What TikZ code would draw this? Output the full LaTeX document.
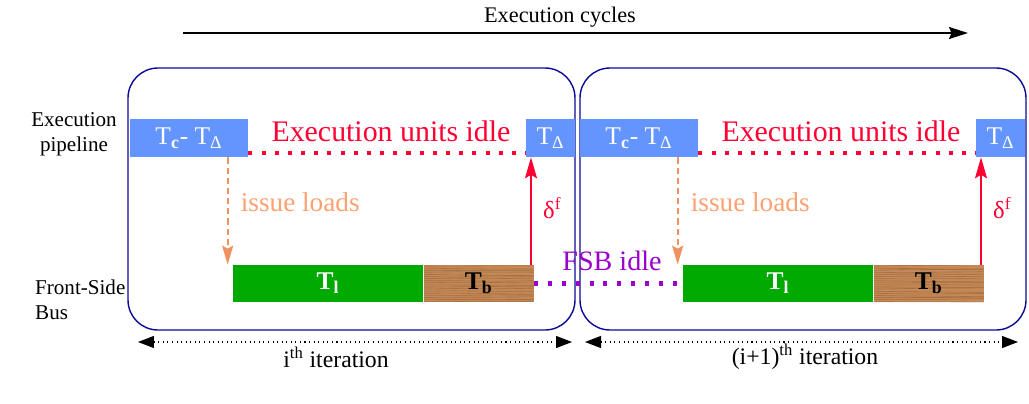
\documentclass[tikz,border=0pt]{standalone}
\usepackage{fontspec}
\setmainfont{Liberation Serif}
\usetikzlibrary{arrows.meta,calc,positioning}
\definecolor{unitblue}{RGB}{100,149,255}
\definecolor{idlered}{RGB}{255,0,51}
\definecolor{loadorange}{RGB}{255,160,112}
\definecolor{loadarrow}{RGB}{240,145,95}
\definecolor{busgreen}{RGB}{0,170,0}
\definecolor{fsbpurple}{RGB}{153,0,204}
\definecolor{framenavy}{RGB}{10,10,150}
\definecolor{woodbrown}{RGB}{196,137,86}
\definecolor{woodgrain}{RGB}{130,82,45}
\tikzset{frame/.style={draw=framenavy, line width=0.8pt, rounded corners=0.6cm},
  stage/.style={fill=unitblue, text=white, inner sep=0pt, minimum height=0.76cm, font=\fontsize{14.5}{16}\selectfont},
  busload/.style={fill=busgreen, text=white, inner sep=0pt, minimum height=0.74cm, minimum width=3.8cm, font=\fontsize{14.5}{16}\selectfont\bfseries},
  busburst/.style={fill=woodbrown, inner sep=0pt, minimum height=0.74cm, minimum width=2.2cm, font=\fontsize{14.5}{16}\selectfont\bfseries,
    path picture={
      \foreach \k in {0,...,17}
        \draw[woodgrain, opacity=0.45, line width=0.35pt] ($(path picture bounding box.north west)+(0,1+2.1*\k)$) -- ++(30,rand*0.6) -- ++(40,rand*0.6) -- ++(45,rand*0.6);
    }},
  idleexec/.style={draw=idlered, line width=2.3pt, dash pattern=on 2.3pt off 5.2pt},
  idlebus/.style={draw=fsbpurple, line width=2.3pt, dash pattern=on 2.3pt off 5.6pt},
  loads/.style={draw=loadarrow, line width=1pt, dash pattern=on 3.5pt off 2.3pt, >={Stealth[length=0.38cm, width=0.22cm, inset=0.06cm]}, ->},
  feedback/.style={draw=idlered, line width=0.75pt, >={Stealth[length=0.42cm, width=0.24cm, inset=0.07cm]}, ->},
  timeline/.style={draw=black, line width=0.8pt, >={Stealth[length=0.38cm, width=0.24cm, inset=0.05cm]}, ->},
  span/.style={draw=black, line width=0.6pt, dotted, >={Triangle[length=0.32cm, width=0.24cm]}, <->},
  side/.style={font=\fontsize{12}{14}\selectfont},
  execidle/.style={text=idlered, font=\fontsize{17}{19}\selectfont},
  loadtext/.style={text=loadorange, font=\fontsize{15.5}{17}\selectfont, anchor=west},
  feedtext/.style={text=idlered, font=\fontsize{14}{16}\selectfont, anchor=west}}

\begin{document}
\begin{tikzpicture}[x=0.02cm, y=-0.02cm]
  \useasboundingbox (0,0) rectangle (1029,403);
  \pgfmathsetseed{7}
  % time axis
  \node[font=\fontsize{12.7}{14}\selectfont] (cycles) at (560,17) {Execution cycles};
  \coordinate (t0) at (183,33);
  \coordinate (t1) at (968,33);
  \draw[timeline] (t0) -- (t1);
  % row labels
  \node[side, align=center] (pipe) at (74,134) {Execution\\pipeline};
  \node[side, align=left, anchor=west] (fsb) at (29,300) {Front-Side\\Bus};
  % iterations
  \draw[frame] (128,68) rectangle (575,330);
  \draw[frame] (580,68) rectangle (1026,330);
  \foreach \i/\dx in {1/0,2/450} {
   \begin{scope}[shift={(\dx,0)}]
    \node[stage, minimum width=2.36cm] (tc\i) at (189,138) {T\textsubscript{\textbf{c}}- T\textsubscript{Δ}};
    \node[stage, minimum width=0.97cm] (td\i) at (550.5,138) {T\textsubscript{Δ}};
    \node[busload] (tl\i) at (328,283.5) {T\textsubscript{l}};
    \node[busburst, right=0pt of tl\i] (tb\i) {T\textsubscript{b}};
    \draw[idleexec] ($(tc\i.south east)+(0,-4)$) -- ($(td\i.south west)+(0,-4)$);
    \node[execidle] (ei\i) at (391,131) {Execution units idle};
    \coordinate (ld\i) at ($(tl\i.north west)+(-5,0)$);
    \draw[loads] (ld\i |- tc\i.south) -- (ld\i);
    \node[loadtext] (il\i) at ($(ld\i)+(7,-62)$) {issue loads};
    \coordinate (df\i) at ($(tb\i.north east)+(-3,0)$);
    \draw[feedback] (df\i) -- (df\i |- td\i.south);
    \node[feedtext] (dl\i) at ($(df\i)+(6,-57)$) {δ\textsuperscript{f}};
   \end{scope}
  }
  \draw[idlebus] (tb1.east) -- (tl2.west);
  \node[text=fsbpurple, font=\fontsize{16}{18}\selectfont] (idle) at (612,261) {FSB idle};
  % iteration spans
  \coordinate (s0) at (138,342);
  \coordinate (s1) at (572,342);
  \coordinate (s2) at (585,342);
  \coordinate (s3) at (1018,342);
  \draw[span] (s0) -- (s1);
  \draw[span] (s2) -- (s3);
  \node[font=\fontsize{13.5}{15}\selectfont] (it1) at (336,357) {i\textsuperscript{th} iteration};
  \node[font=\fontsize{13.5}{15}\selectfont] (it2) at (805,357) {(i+1)\textsuperscript{th} iteration};
\end{tikzpicture}
\end{document}
